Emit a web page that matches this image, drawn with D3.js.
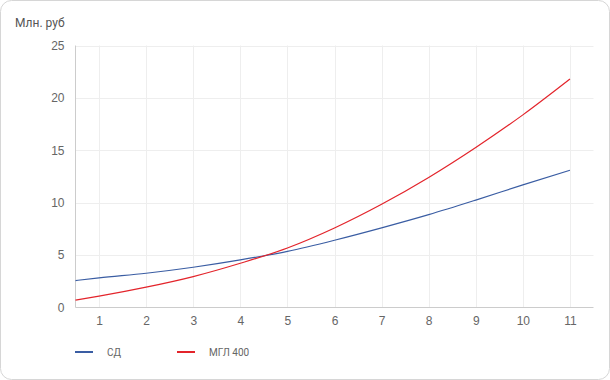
<!DOCTYPE html>
<html><head><meta charset="utf-8">
<script src="https://cdn.jsdelivr.net/npm/d3@7"></script>
<style>body{margin:0;background:#fff}svg{display:block}</style>
</head><body>
<script>
const xValues = [0.5, 1, 2, 3, 4, 5, 6, 7, 8, 9, 10, 11];
const seriesSD = [2.57, 2.83, 3.27, 3.84, 4.54, 5.36, 6.42, 7.6, 8.86, 10.25, 11.7, 13.1];
const seriesMGL = [0.7, 1.08, 1.94, 2.95, 4.22, 5.68, 7.59, 9.85, 12.41, 15.27, 18.38, 21.8];
const seriesNames = ["СД", "МГЛ 400"];
const seriesColors = ["#3a5da3", "#e3242b"];
const xTicks = [1,2,3,4,5,6,7,8,9,10,11];
const yTicks = [0,5,10,15,20,25];
const yTitle = "Млн. руб";

const W = 610, H = 380;
const svg = d3.select("body").append("svg").attr("width", W).attr("height", H)
  .style("font-family", "Roboto, Arial, sans-serif");

svg.append("rect").attr("x",0.5).attr("y",0.5).attr("width",W-1).attr("height",H-1)
  .attr("rx",11).attr("ry",11).attr("fill","#fff").attr("stroke","#d6d6d6");

const x = d3.scaleLinear().domain([0.5, 11.5]).range([75.5, 593.5]);
const y = d3.scaleLinear().domain([0, 25]).range([307.5, 45.5]);

// gridlines
svg.append("g").selectAll("line").data(xTicks).join("line")
  .attr("x1", d => Math.round(x(d))+0.5).attr("x2", d => Math.round(x(d))+0.5)
  .attr("y1", y(25)).attr("y2", y(0)).attr("stroke","#eeeeee");
svg.append("g").selectAll("line").data(yTicks.filter(d=>d>0)).join("line")
  .attr("x1", x(0.5)).attr("x2", x(11.5))
  .attr("y1", d => Math.round(y(d))+0.5).attr("y2", d => Math.round(y(d))+0.5).attr("stroke","#eeeeee");

// axes
const xAxis = d3.axisBottom(x).tickValues(xTicks).tickSize(0).tickPadding(9).tickFormat(d3.format("d"));
const gx = svg.append("g").attr("transform", `translate(0,${y(0)})`).call(xAxis);
gx.select(".domain").attr("stroke","#cccccc").attr("d", `M${x(0.5)},0H${x(11.5)}`);
gx.selectAll("text").attr("fill","#666").style("font-size","12px");

const yAxis = d3.axisLeft(y).tickValues(yTicks).tickSize(0).tickPadding(11);
const gy = svg.append("g").attr("transform", `translate(${x(0.5)},0)`).call(yAxis);
gy.select(".domain").attr("stroke","#cccccc").attr("d", `M0,${y(0)}V${y(25)}`);
gy.selectAll("text").attr("fill","#666").style("font-size","12px");

svg.append("text").attr("x",15).attr("y",27).attr("fill","#555").style("font-size","12px").text(yTitle);

// lines
const line = d3.line().x((d,i) => x(xValues[i])).y(d => y(d)).curve(d3.curveMonotoneX);
[seriesSD, seriesMGL].forEach((s, k) => {
  svg.append("path").attr("d", line(s)).attr("fill","none")
    .attr("stroke", seriesColors[k]).attr("stroke-width", 1.2);
});

// legend
const lg = svg.append("g");
const legX = [75, 177];
seriesNames.forEach((n, k) => {
  lg.append("line").attr("x1", legX[k]).attr("x2", legX[k]+18).attr("y1",352).attr("y2",352)
    .attr("stroke", seriesColors[k]).attr("stroke-width",2);
  lg.append("text").attr("x", legX[k]+32).attr("y",356).attr("fill","#666")
    .style("font-size","10px").text(n);
});
</script>
</body></html>
